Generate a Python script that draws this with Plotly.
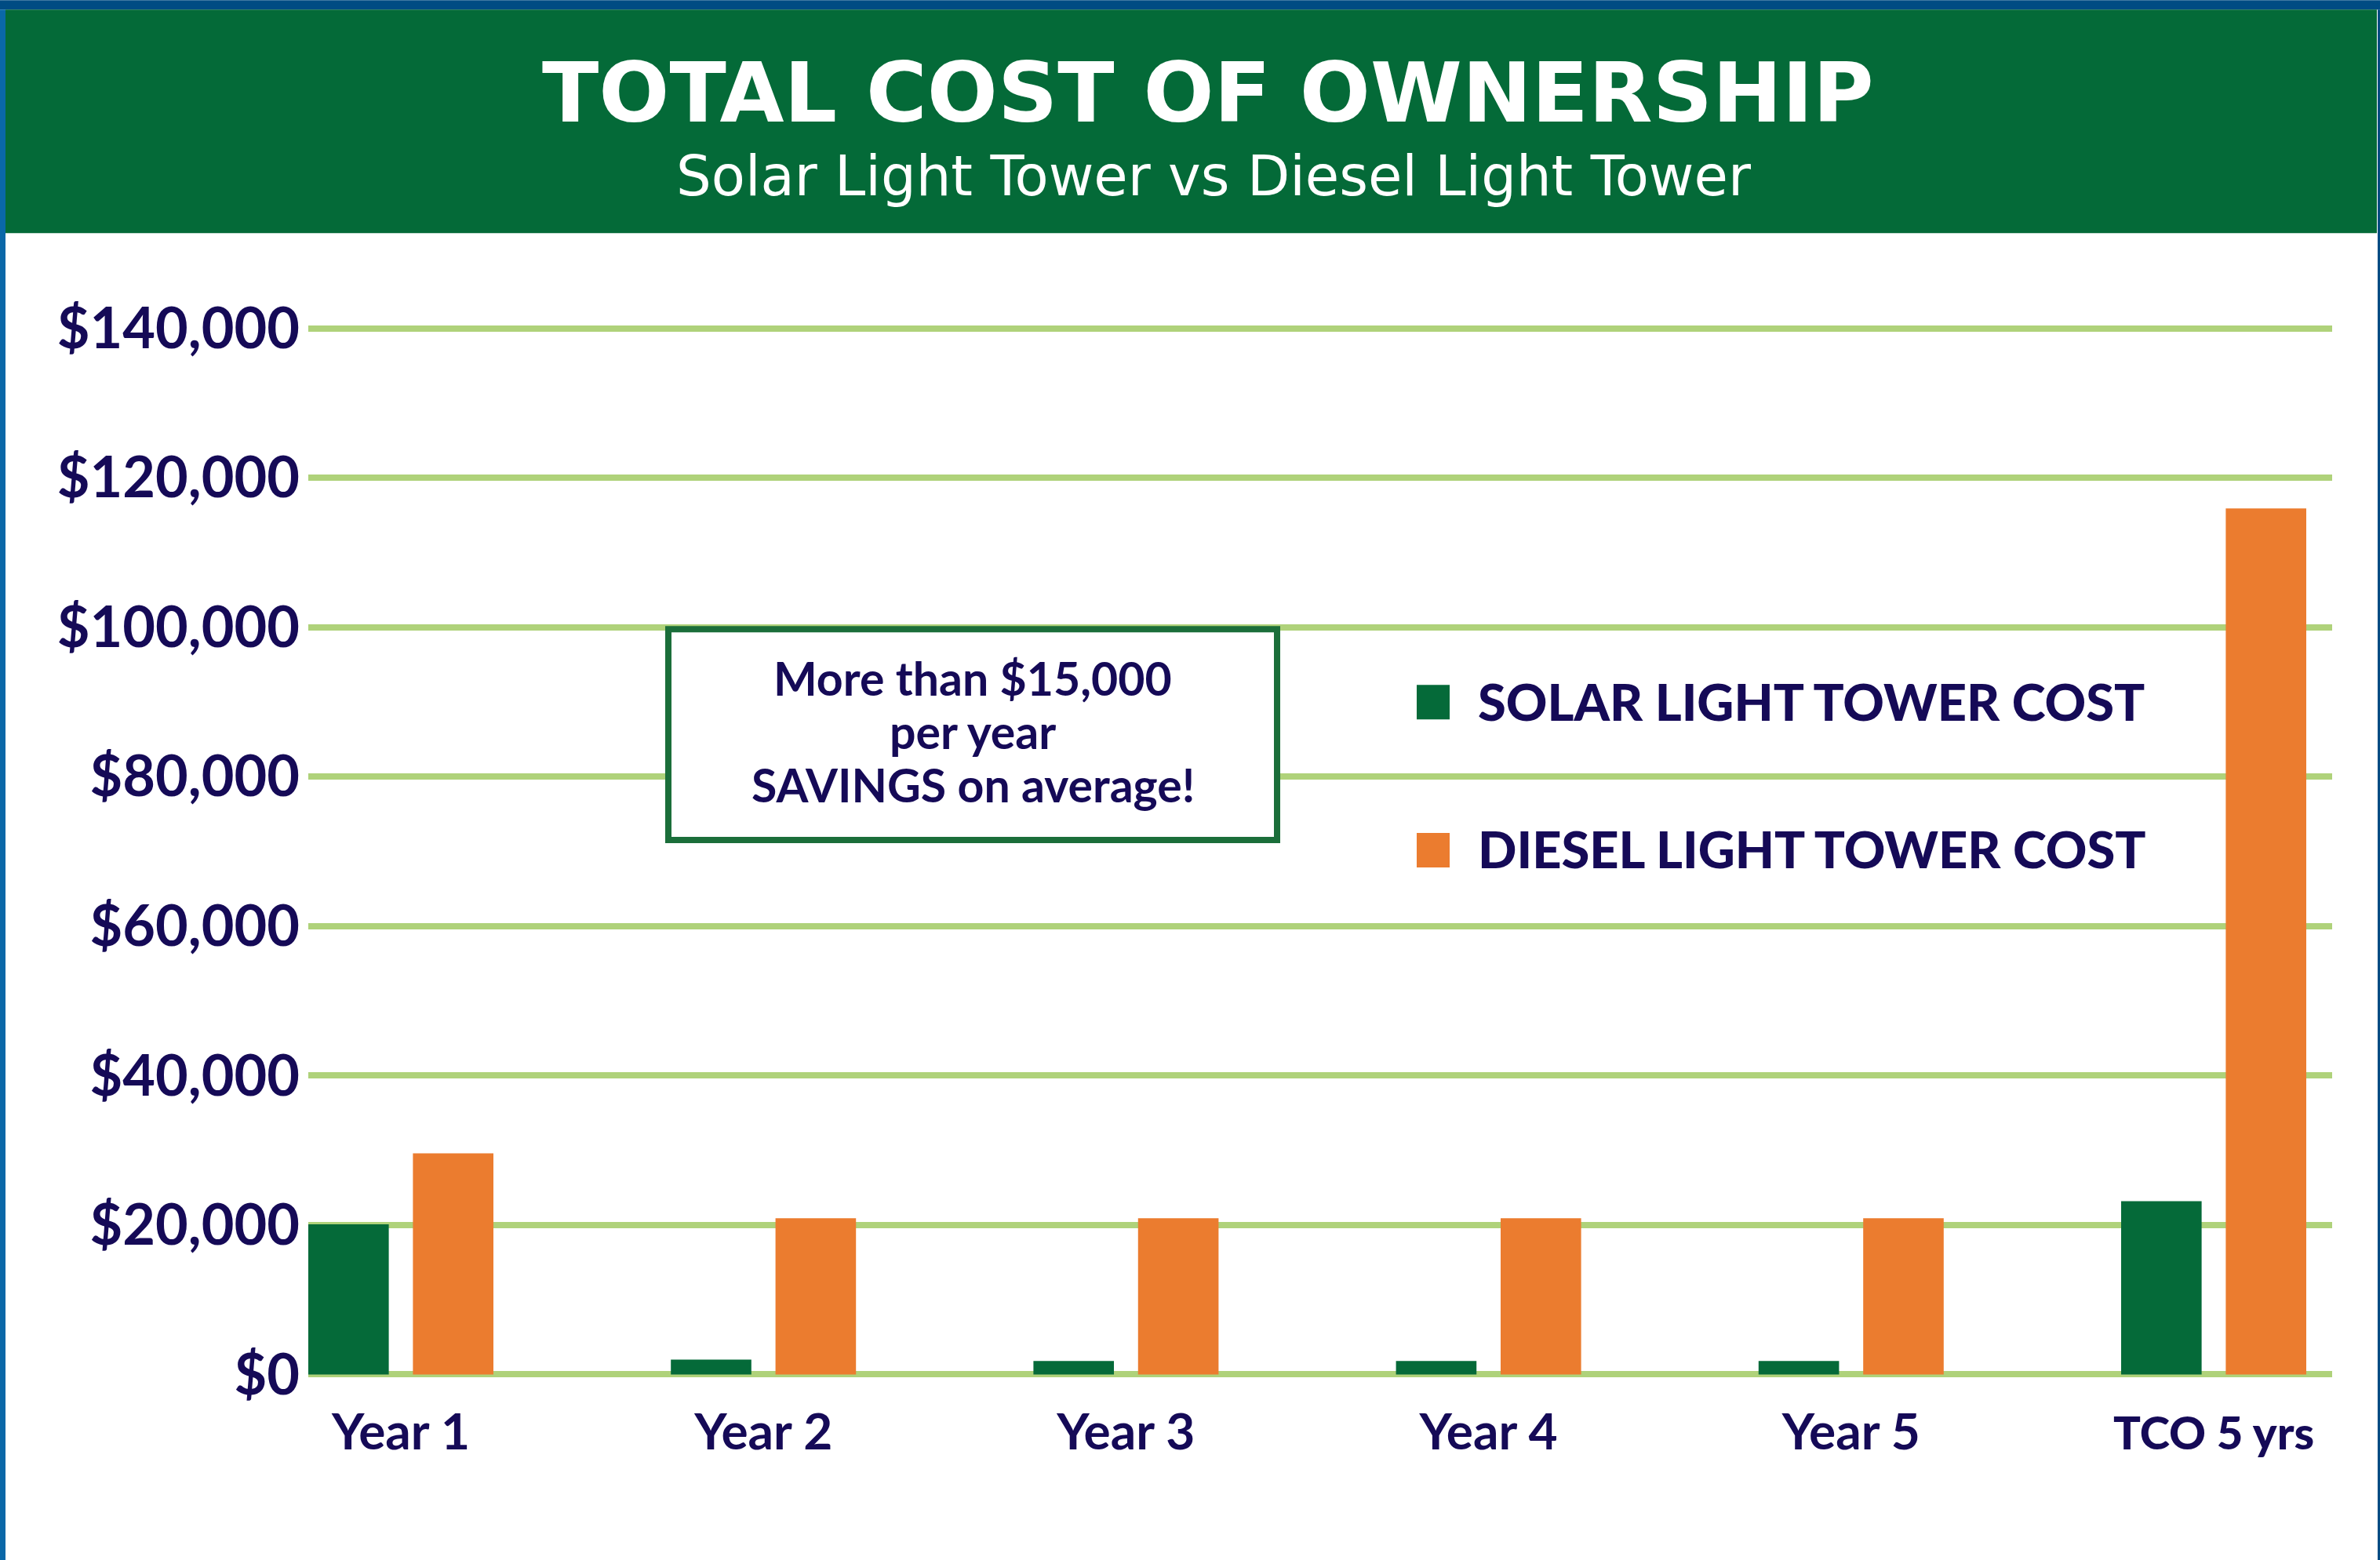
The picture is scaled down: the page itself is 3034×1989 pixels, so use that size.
import plotly.graph_objects as go

# ---------------- data ----------------
categories = ["Year 1", "Year 2", "Year 3", "Year 4", "Year 5", "TCO 5 yrs"]
solar_cost = [20100, 2000, 1800, 1800, 1800, 23200]
diesel_cost = [29600, 20900, 20900, 20900, 20900, 115900]
y_tick_values = [0, 20000, 40000, 60000, 80000, 100000, 120000, 140000]
y_tick_labels = ["$0", "$20,000", "$40,000", "$60,000", "$80,000",
                 "$100,000", "$120,000", "$140,000"]
series_names = ["SOLAR LIGHT TOWER COST", "DIESEL LIGHT TOWER COST"]
title_text = "TOTAL COST OF OWNERSHIP"
subtitle_text = "Solar Light Tower vs Diesel Light Tower"
callout_lines = ["More than $15,000", "per year", "SAVINGS on average!"]

# ---------------- styling ----------------
W, H = 3034, 1989
L, R = 393, W - 2973
PPU = 190.6 / 20000.0
ZERO_PX = 1752.5
YMIN, YMAX = -1000, 141000
T = ZERO_PX - YMAX * PPU
B = H - (ZERO_PX - YMIN * PPU)
PW, PH = W - L - R, H - T - B

NAVY = "#150a57"
GREEN = "#056a39"
ORANGE = "#eb7c2f"
GRID = "#afd27a"
HEADER = "#046a38"
TOPBLUE = "#004c83"
SIDEBLUE = "#0a68a8"
BOXGREEN = "#1b6e3a"


def px(p):
    return (p - L) / PW


def py(p):
    return (H - B - p) / PH


xs = list(range(len(categories)))
BAR_W = 0.222
HALF_SEP = 0.1443

tick_text = []
for c in categories:
    if c.startswith("TCO"):
        tick_text.append('<span style="font-family:Lato;font-size:58px;font-weight:900">%s</span>' % c)
    else:
        tick_text.append(c)

fig = go.Figure()
fig.add_trace(go.Bar(x=xs, y=solar_cost, name=series_names[0], width=BAR_W,
                     offset=-HALF_SEP - BAR_W / 2, marker=dict(color=GREEN, line=dict(width=0)),
                     showlegend=False, hoverinfo="skip"))
fig.add_trace(go.Bar(x=xs, y=diesel_cost, name=series_names[1], width=BAR_W,
                     offset=HALF_SEP - BAR_W / 2, marker=dict(color=ORANGE, line=dict(width=0)),
                     showlegend=False, hoverinfo="skip"))

shapes = [
    # top band and header
    dict(type="rect", xref="paper", yref="paper", x0=px(0), x1=px(W), y0=py(0), y1=py(12),
         fillcolor=TOPBLUE, line=dict(width=0), layer="above"),
    dict(type="rect", xref="paper", yref="paper", x0=px(7), x1=px(3030), y0=py(12), y1=py(297),
         fillcolor=HEADER, line=dict(width=0), layer="above"),
    # side stripes
    dict(type="rect", xref="paper", yref="paper", x0=px(0), x1=px(7), y0=py(12), y1=py(H),
         fillcolor=SIDEBLUE, line=dict(width=0), layer="above"),
    dict(type="rect", xref="paper", yref="paper", x0=px(3031), x1=px(W), y0=py(12), y1=py(H),
         fillcolor=TOPBLUE, line=dict(width=0), layer="above"),
    # callout box
    dict(type="rect", xref="paper", yref="paper", x0=px(852), x1=px(1628), y0=py(802), y1=py(1071),
         fillcolor="white", line=dict(width=8, color=BOXGREEN), layer="above"),
    # legend swatches
    dict(type="rect", xref="paper", yref="paper", x0=px(1806), x1=px(1848), y0=py(873), y1=py(917),
         fillcolor=GREEN, line=dict(width=0), layer="above"),
    dict(type="rect", xref="paper", yref="paper", x0=px(1806), x1=px(1848), y0=py(1062), y1=py(1106),
         fillcolor=ORANGE, line=dict(width=0), layer="above"),
]

annotations = [
    dict(text=title_text, xref="paper", yref="paper", x=px(1540), y=py(180.5),
         xanchor="center", yanchor="bottom", showarrow=False, borderpad=0,
         font=dict(family="DejaVu Sans", size=106, color="white", weight=700)),
    dict(text=subtitle_text, xref="paper", yref="paper", x=px(1547), y=py(182.5),
         xanchor="center", yanchor="top", showarrow=False, borderpad=0,
         font=dict(family="DejaVu Sans", size=70.5, color="white")),
    dict(text=series_names[0], xref="paper", yref="paper", x=px(1882), y=py(894),
         xanchor="left", yanchor="middle", showarrow=False,
         font=dict(family="Lato", size=65, color=NAVY, weight=900)),
    dict(text=series_names[1], xref="paper", yref="paper", x=px(1882), y=py(1082),
         xanchor="left", yanchor="middle", showarrow=False,
         font=dict(family="Lato", size=65, color=NAVY, weight=900)),
]
callout_y = [864, 932, 1000]
for line, yc in zip(callout_lines, callout_y):
    annotations.append(dict(text=line, xref="paper", yref="paper", x=px(1240), y=py(yc),
                            xanchor="center", yanchor="middle", showarrow=False,
                            font=dict(family="Lato", size=59, color=NAVY, weight=700)))

fig.update_layout(
    width=W, height=H,
    margin=dict(l=L, r=R, t=T, b=B, pad=0),
    paper_bgcolor="white", plot_bgcolor="rgba(0,0,0,0)",
    barmode="group",
    showlegend=False,
    hovermode=False,
    shapes=shapes,
    annotations=annotations,
    xaxis=dict(range=[-0.2553, 5.3267], tickmode="array", tickvals=xs, ticktext=tick_text,
               showgrid=False, zeroline=False, showline=False, ticks="",
               ticklabelstandoff=21,
               tickfont=dict(family="Lato", size=64, color=NAVY, weight=700)),
    yaxis=dict(range=[YMIN, YMAX], tickmode="array", tickvals=y_tick_values, ticktext=y_tick_labels,
               showgrid=True, gridcolor=GRID, gridwidth=8, zeroline=False, showline=False,
               ticks="", ticklabelstandoff=10,
               tickfont=dict(family="Lato", size=72, color=NAVY, weight=700)),
)

fig.write_html("out.html", config={"displayModeBar": False},
               post_script="document.body.style.margin='0';")
